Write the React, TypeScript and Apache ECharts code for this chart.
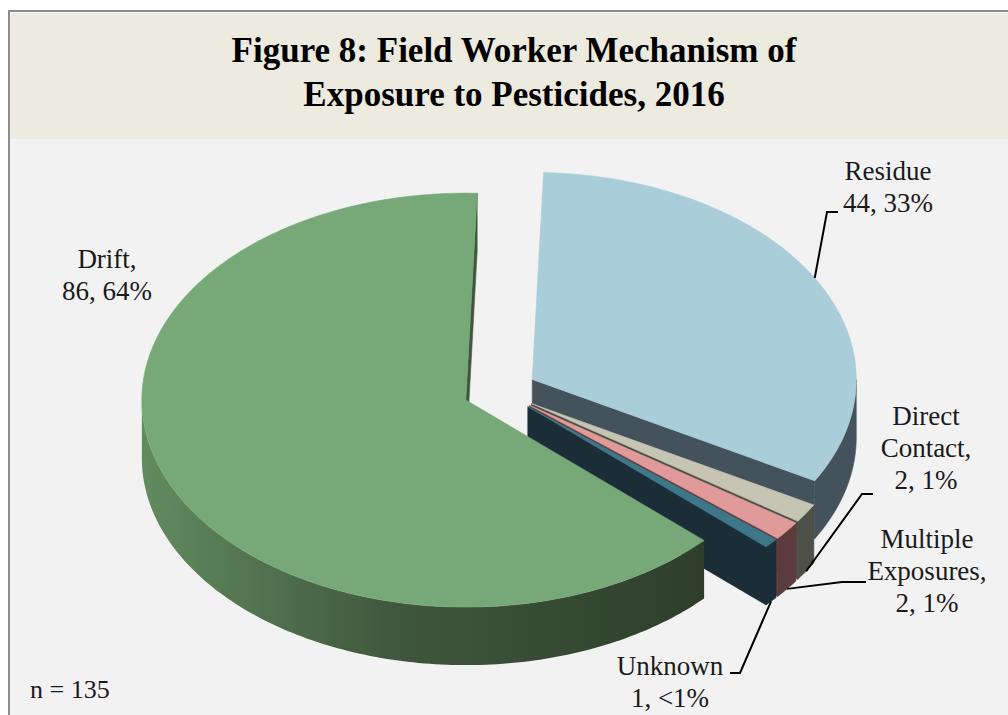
import React, { useEffect, useRef } from 'react';
import * as echarts from 'echarts';

// ---- data ----
const categories = ['Residue', 'Direct Contact', 'Multiple Exposures', 'Unknown', 'Drift'];
const counts = [44, 2, 2, 1, 86];
const labelHeads = [['Residue'], ['Direct', 'Contact,'], ['Multiple', 'Exposures,'], ['Unknown'], ['Drift,']];
const titleLines = ['Figure 8: Field Worker Mechanism of', 'Exposure to Pesticides, 2016'];
const noteText = 'n = 135';

// ---- styles ----
const topColors = ['#A9CDD9', '#C6C4B2', '#E19A9A', '#3E778A', '#77A878'];
const sideColors: any[] = [
  '#44535B',
  '#4E4F47',
  '#5C3B3D',
  '#1B2E37',
  new echarts.graphic.LinearGradient(0, 0, 1, 0, [
    { offset: 0, color: '#628B60' },
    { offset: 0.45, color: '#3F573D' },
    { offset: 1, color: '#2E3E2B' },
  ]),
];

// ---- layout ----
const CX = 500, CY = 391, RX = 324, RY = 207, DEPTH = 58, EXPLODE = 37, START_DEG = 2;
const FONT = '"Liberation Serif", "Times New Roman", serif';
const LABEL_SIZE = 27;
const LABEL_ASCENT = 23; // top of text box to baseline
const LINE_H = 32;
const labelLayout = [
  { x: 888, y: 180, leader: [[827, 212], [838, 212]], anchor: 'top' },
  { x: 926, y: 425, leader: [[862, 494], [873, 494]], anchor: 'bottom' },
  { x: 927, y: 548, leader: [[842, 582], [866, 582]], anchor: 'bottom' },
  { x: 670, y: 675, leader: [[740, 673], [730, 673]], anchor: 'bottom' },
  { x: 107, y: 268, leader: null as any, anchor: 'none' },
];

const total = counts.reduce((a, b) => a + b, 0);
const rad = (d: number) => (d * Math.PI) / 180;

function sliceAngles(i: number): [number, number] {
  let s = START_DEG;
  for (let j = 0; j < i; j++) s += (counts[j] / total) * 360;
  return [s, s + (counts[i] / total) * 360];
}
function sliceCenter(i: number): [number, number] {
  const [a, b] = sliceAngles(i);
  const m = rad((a + b) / 2);
  return [CX + EXPLODE * Math.sin(m), CY - EXPLODE * (RY / RX) * Math.cos(m)];
}
function rim(c: number[], deg: number, r = 1): [number, number] {
  const t = rad(deg);
  return [c[0] + r * RX * Math.sin(t), c[1] - r * RY * Math.cos(t)];
}
function arcPts(c: number[], a: number, b: number, dy = 0): number[][] {
  const n = Math.max(2, Math.ceil(Math.abs(b - a)));
  const pts: number[][] = [];
  for (let k = 0; k <= n; k++) {
    const p = rim(c, a + ((b - a) * k) / n);
    pts.push([p[0], p[1] + dy]);
  }
  return pts;
}
function pctText(v: number) {
  const p = (v / total) * 100;
  return p < 1 ? '<1%' : Math.round(p) + '%';
}

function renderItem(params: any, api: any) {
  const i = params.dataIndex;
  const [a, b] = sliceAngles(i);
  const c = sliceCenter(i);
  const children: any[] = [];
  const side = sideColors[i];
  const solidStroke = typeof side === 'string' ? side : 'none';

  // outer (front) wall
  const lo = Math.max(a, 90), hi = Math.min(b, 270);
  if (hi > lo) {
    const top = arcPts(c, lo, hi);
    const bot = arcPts(c, lo, hi, DEPTH).reverse();
    children.push({
      type: 'polygon',
      z2: rim(c, (lo + hi) / 2)[1],
      shape: { points: top.concat(bot) },
      style: { fill: side, stroke: solidStroke, lineWidth: 0.6 },
    });
  }
  // cut faces
  const face = (deg: number) => {
    const r = rim(c, deg);
    const col = typeof side === 'string' ? side : '#3F573D';
    return {
      type: 'polygon',
      z2: (c[1] + r[1]) / 2,
      shape: { points: [c, r, [r[0], r[1] + DEPTH], [c[0], c[1] + DEPTH]] },
      style: { fill: col, stroke: col, lineWidth: 0.6 },
    };
  };
  if (Math.sin(rad(b)) > 0) children.push(face(b));
  if (Math.sin(rad(a)) < 0) children.push(face(a));

  // top face
  children.push({
    type: 'polygon',
    z2: 1000,
    shape: { points: [c].concat(arcPts(c, a, b)) },
    style: { fill: topColors[i], stroke: topColors[i], lineWidth: 0.6 },
  });

  // label
  const L = labelLayout[i];
  const lines = labelHeads[i].concat([api.value(0) + ', ' + pctText(api.value(0))]);
  lines.forEach((t, k) => {
    children.push({
      type: 'text',
      z2: 2000,
      style: {
        text: t,
        x: L.x,
        y: L.y + k * LINE_H - LABEL_ASCENT,
        font: `${LABEL_SIZE}px ${FONT}`,
        fill: '#1A1A1A',
        align: 'center',
        verticalAlign: 'top',
      },
    });
  });
  if (L.leader) {
    const m = (a + b) / 2;
    const p = rim(c, m);
    const anchor = L.anchor === 'bottom' ? [p[0], p[1] + DEPTH] : p;
    children.push({
      type: 'polyline',
      z2: 2000,
      shape: { points: [anchor].concat(L.leader) },
      style: { stroke: '#000000', lineWidth: 2, fill: 'none' },
    });
  }
  return { type: 'group', children };
}

export default function App() {
  const ref = useRef<HTMLDivElement>(null);
  useEffect(() => {
    if (!ref.current) return;
    const chart = echarts.init(ref.current, undefined, { renderer: 'svg' });
    chart.setOption({
      animation: false,
      backgroundColor: '#FFFFFF',
      graphic: [
        {
          type: 'rect',
          z: -10,
          shape: { x: 9, y: 11, width: 1100, height: 800 },
          style: { fill: '#F2F2F2', stroke: '#8C8C8C', lineWidth: 2 },
        },
        {
          type: 'rect',
          z: -9,
          shape: { x: 11, y: 13, width: 1100, height: 126 },
          style: { fill: '#EDEAE0' },
        },
        ...titleLines.map((t, k) => ({
          type: 'text',
          z: -8,
          style: {
            text: t,
            x: 514,
            y: 33 + k * 44,
            font: `bold 35px ${FONT}`,
            fill: '#000000',
            align: 'center',
            verticalAlign: 'top',
          },
        })),
        {
          type: 'text',
          z: -8,
          style: {
            text: noteText,
            x: 30,
            y: 676,
            font: `26px ${FONT}`,
            fill: '#1A1A1A',
            align: 'left',
            verticalAlign: 'top',
          },
        },
      ],
      series: [
        {
          type: 'custom',
          coordinateSystem: 'none',
          silent: true,
          renderItem,
          data: counts.map((v, i) => ({ value: v, name: categories[i] })),
        },
      ],
    });
    return () => chart.dispose();
  }, []);
  return <div ref={ref} style={{ position: 'fixed', left: 0, top: 0, width: 1008, height: 715 }} />;
}
